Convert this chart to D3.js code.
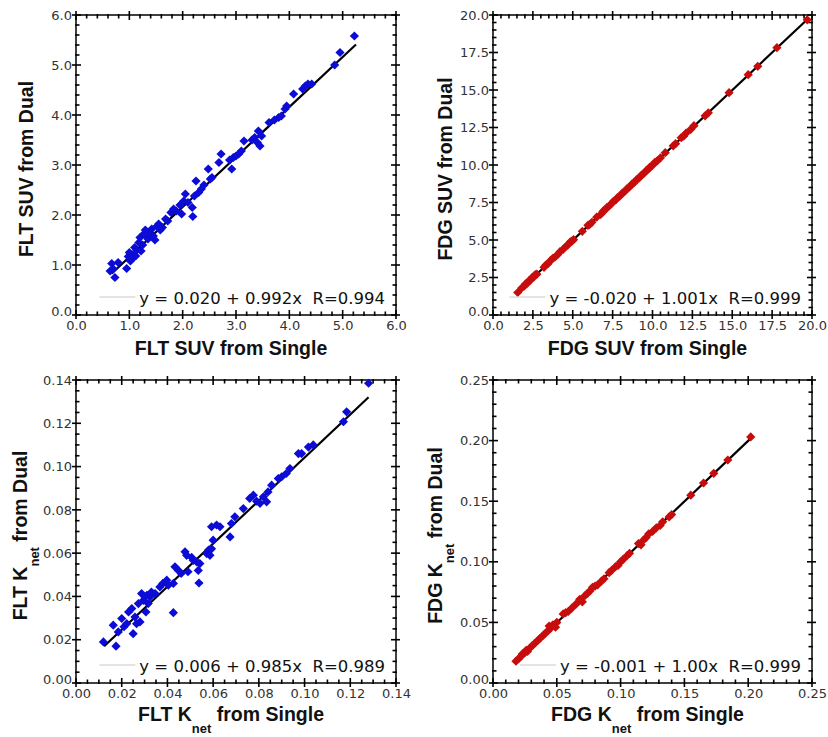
<!DOCTYPE html>
<html><head><meta charset="utf-8">
<script src="https://cdn.jsdelivr.net/npm/d3@7"></script>
<style>
body{margin:0;background:#fff;}
svg{display:block;}
</style></head>
<body>
<svg id="chart" width="828" height="737"></svg>
<script>
// ---------- DATA ----------
const fltSuvX = [0.64,0.67,0.70,0.73,0.79,0.95,0.98,1.00,1.02,1.05,1.08,1.10,1.12,1.14,1.18,1.20,1.22,1.25,1.27,1.30,1.32,1.35,1.38,1.42,1.45,1.48,1.52,1.55,1.58,1.62,1.68,1.72,1.78,1.83,1.88,1.95,1.98,2.02,2.05,2.10,2.18,2.19,2.22,2.25,2.30,2.35,2.40,2.48,2.52,2.55,2.68,2.72,2.88,2.92,2.95,3.00,3.05,3.10,3.15,3.30,3.35,3.40,3.42,3.45,3.48,3.62,3.72,3.80,3.85,3.92,3.95,4.08,4.25,4.30,4.35,4.42,4.85,4.95,5.22];
const fltSuvY = [0.88,1.03,0.92,0.75,1.05,0.93,1.17,1.25,1.08,1.12,1.22,1.35,1.18,1.30,1.45,1.55,1.28,1.40,1.62,1.70,1.58,1.52,1.65,1.72,1.58,1.50,1.78,1.82,1.70,1.75,1.92,1.88,2.05,2.12,2.08,2.20,2.02,2.28,2.42,2.25,2.15,1.97,2.38,2.68,2.45,2.52,2.60,2.92,2.72,2.75,3.05,3.22,3.10,2.92,3.15,3.18,3.22,3.28,3.48,3.50,3.55,3.45,3.68,3.38,3.58,3.85,3.90,3.95,3.98,4.12,4.18,4.42,4.52,4.58,4.62,4.62,5.00,5.25,5.58];
const fltSuvLineX = [0.67, 5.25];
const fltSuvLineY = [0.83, 5.41];

const fdgSuvX = [1.55,1.8,1.95,2.05,2.15,2.25,2.35,2.45,2.55,2.65,2.75,3.2,3.3,3.45,3.6,3.75,3.9,4.05,4.2,4.4,4.55,4.7,4.85,4.95,5.05,5.6,5.95,6.05,6.2,6.5,6.75,6.9,7.0,7.15,7.3,7.45,7.55,7.7,7.8,7.95,8.1,8.25,8.4,8.55,8.7,8.85,9.0,9.15,9.3,9.45,9.6,9.75,9.85,10.0,10.15,10.3,10.5,10.8,11.3,11.45,11.8,11.95,12.1,12.4,12.6,13.3,13.5,14.8,16.0,16.6,17.8,19.7];
const fdgSuvY = [1.50,1.80,1.92,2.08,2.12,2.28,2.33,2.50,2.52,2.70,2.72,3.18,3.32,3.42,3.62,3.78,3.88,4.02,4.22,4.38,4.55,4.68,4.88,4.92,5.02,5.58,5.98,6.02,6.18,6.52,6.70,6.92,6.98,7.18,7.28,7.45,7.58,7.68,7.82,7.92,8.12,8.22,8.42,8.52,8.72,8.82,9.02,9.12,9.32,9.42,9.62,9.72,9.88,9.98,10.18,10.28,10.48,10.82,11.28,11.42,11.82,11.92,12.12,12.38,12.62,13.28,13.48,14.82,16.02,16.58,17.82,19.68];
const fdgSuvLineX = [1.5, 19.8];
const fdgSuvLineY = [1.48, 19.8];

const fltKX = [0.012,0.0163,0.0175,0.0185,0.020,0.021,0.0222,0.023,0.0244,0.025,0.0258,0.0265,0.0273,0.028,0.0287,0.0295,0.0306,0.031,0.0316,0.0324,0.033,0.0346,0.0367,0.038,0.0397,0.0404,0.0426,0.0426,0.0433,0.0448,0.046,0.0477,0.0484,0.049,0.0506,0.0513,0.0528,0.0535,0.0538,0.0542,0.0572,0.058,0.0586,0.0593,0.060,0.0593,0.0615,0.063,0.0674,0.068,0.0695,0.0732,0.076,0.0776,0.079,0.0805,0.082,0.0834,0.084,0.0856,0.0885,0.090,0.092,0.0936,0.0973,0.0987,0.1017,0.1038,0.117,0.1184,0.128];
const fltKY = [0.019,0.0267,0.017,0.0236,0.0298,0.026,0.0274,0.0328,0.0344,0.0228,0.0305,0.0274,0.0367,0.0282,0.0413,0.0382,0.0328,0.0405,0.0367,0.0398,0.042,0.0413,0.0444,0.046,0.0475,0.0452,0.0325,0.046,0.0537,0.052,0.0506,0.0606,0.059,0.0514,0.058,0.0567,0.056,0.052,0.0462,0.0552,0.0598,0.0614,0.059,0.062,0.066,0.0722,0.073,0.0722,0.0675,0.0737,0.0768,0.0806,0.0853,0.0868,0.084,0.083,0.086,0.0837,0.0883,0.0914,0.0945,0.0953,0.0968,0.0991,0.106,0.106,0.109,0.110,0.1207,0.1253,0.1385];
const fltKLineX = [0.0123, 0.128];
const fltKLineY = [0.017, 0.132];

const fdgKX = [0.018,0.020,0.022,0.023,0.025,0.026,0.027,0.029,0.031,0.033,0.035,0.037,0.039,0.041,0.043,0.044,0.045,0.047,0.049,0.050,0.055,0.057,0.059,0.062,0.065,0.068,0.070,0.072,0.074,0.076,0.078,0.080,0.082,0.085,0.087,0.091,0.093,0.096,0.098,0.100,0.102,0.105,0.107,0.114,0.116,0.118,0.120,0.122,0.125,0.128,0.131,0.133,0.138,0.140,0.155,0.165,0.173,0.184,0.202];
const fdgKY = [0.018,0.020,0.022,0.024,0.025,0.027,0.026,0.029,0.031,0.033,0.035,0.037,0.039,0.041,0.043,0.047,0.045,0.048,0.046,0.050,0.057,0.058,0.059,0.062,0.065,0.069,0.067,0.072,0.074,0.076,0.079,0.080,0.081,0.084,0.086,0.091,0.093,0.096,0.097,0.100,0.102,0.105,0.107,0.115,0.114,0.118,0.120,0.123,0.125,0.128,0.130,0.133,0.137,0.139,0.155,0.165,0.173,0.184,0.203];
const fdgKLineX = [0.0175, 0.202];
const fdgKLineY = [0.0173, 0.2018];

// tick labels
const fltSuvTicks = ["0.0","1.0","2.0","3.0","4.0","5.0","6.0"];
const fdgSuvTicks = ["0.0","2.5","5.0","7.5","10.0","12.5","15.0","17.5","20.0"];
const fltKTicks = ["0.00","0.02","0.04","0.06","0.08","0.10","0.12","0.14"];
const fdgKTicks = ["0.00","0.05","0.10","0.15","0.20","0.25"];
const fltSuvMinorStep = 0.2, fdgSuvMinorStep = 0.5, fltKMinorStep = 0.005, fdgKMinorStep = 0.01;

const legends = ["y = 0.020 + 0.992x  R=0.994","y = -0.020 + 1.001x  R=0.999","y = 0.006 + 0.985x  R=0.989","y = -0.001 + 1.00x  R=0.999"];
const xTitles = [[["FLT SUV from Single",0]],[["FDG SUV from Single",0]],[["FLT K",0],["net",1],[" from Single",0]],[["FDG K",0],["net",1],[" from Single",0]]];
const yTitles = [[["FLT SUV from Dual",0]],[["FDG SUV from Dual",0]],[["FLT K",0],["net",1],[" from Dual",0]],[["FDG K",0],["net",1],[" from Dual",0]]];

const BLUE = "#0c0cd6", RED = "#c80c0c";

const panels = [
  {x:fltSuvX,y:fltSuvY,lx:fltSuvLineX,ly:fltSuvLineY,ticks:fltSuvTicks,minor:fltSuvMinorStep,color:BLUE,
   box:[76,15,396,315],yTitleX:33,xTitleY:355},
  {x:fdgSuvX,y:fdgSuvY,lx:fdgSuvLineX,ly:fdgSuvLineY,ticks:fdgSuvTicks,minor:fdgSuvMinorStep,color:RED,
   box:[493,15,812,315],yTitleX:452,xTitleY:355},
  {x:fltKX,y:fltKY,lx:fltKLineX,ly:fltKLineY,ticks:fltKTicks,minor:fltKMinorStep,color:BLUE,
   box:[76,380,396,683],yTitleX:27,xTitleY:721},
  {x:fdgKX,y:fdgKY,lx:fdgKLineX,ly:fdgKLineY,ticks:fdgKTicks,minor:fdgKMinorStep,color:RED,
   box:[493,380,812,683],yTitleX:442,xTitleY:721}
];

const svg = d3.select("#chart");
svg.append("rect").attr("width",828).attr("height",737).attr("fill","#fff");
const diamond = "M0,-4.6L4.6,0L0,4.6L-4.6,0Z";

panels.forEach((p,i)=>{
  const [x0,y0,x1,y1] = p.box;
  const tickVals = p.ticks.map(Number);
  const dmax = tickVals[tickVals.length-1];
  const xs = d3.scaleLinear().domain([0,dmax]).range([x0,x1]);
  const ys = d3.scaleLinear().domain([0,dmax]).range([y1,y0]);
  const minorVals = d3.range(0, dmax + p.minor/2, p.minor).filter(v => !tickVals.some(t=>Math.abs(t-v)<p.minor/10));
  const g = svg.append("g");

  // frame
  g.append("rect").attr("x",x0).attr("y",y0).attr("width",x1-x0).attr("height",y1-y0)
    .attr("fill","none").attr("stroke","#000").attr("stroke-width",1.5);

  // ticks: drawn through scales
  const tk = g.append("g").attr("stroke","#000");
  const majorIn = 5, majorOut = 4, minorIn = 3.5, minorOut = 1;
  const drawTicks = (vals, inL, outL, w) => {
    vals.forEach(v=>{
      const xp = xs(v), yp = ys(v);
      tk.append("line").attr("x1",xp).attr("x2",xp).attr("y1",y1+outL).attr("y2",y1-inL).attr("stroke-width",w);
      tk.append("line").attr("x1",xp).attr("x2",xp).attr("y1",y0-outL).attr("y2",y0+inL).attr("stroke-width",w);
      tk.append("line").attr("y1",yp).attr("y2",yp).attr("x1",x0-outL).attr("x2",x0+inL).attr("stroke-width",w);
      tk.append("line").attr("y1",yp).attr("y2",yp).attr("x1",x1+outL).attr("x2",x1-inL).attr("stroke-width",w);
    });
  };
  drawTicks(minorVals, minorIn, minorOut, 1.6);
  drawTicks(tickVals, majorIn, majorOut, 1.6);

  // tick labels via axes
  const xa = d3.axisBottom(xs).tickValues(tickVals).tickFormat((d,j)=>p.ticks[j]).tickSize(0).tickPadding(6);
  const xg = g.append("g").attr("transform",`translate(0,${y1})`).call(xa);
  const ya = d3.axisLeft(ys).tickValues(tickVals).tickFormat((d,j)=>p.ticks[j]).tickSize(0).tickPadding(4);
  const yg = g.append("g").attr("transform",`translate(${x0},0)`).call(ya);
  [xg,yg].forEach(a=>{
    a.select(".domain").remove();
    a.selectAll("text").attr("font-family","DejaVu Sans, sans-serif").attr("font-size",13).attr("fill","#333");
  });
  // lift the bottom y label slightly so it clears the x "0" label
  yg.selectAll("text").filter(d=>d===0).attr("dy","0.0em");

  // regression line
  g.append("line").attr("x1",xs(p.lx[0])).attr("y1",ys(p.ly[0])).attr("x2",xs(p.lx[1])).attr("y2",ys(p.ly[1]))
    .attr("stroke","#000").attr("stroke-width",2.2);

  // points
  g.append("g").selectAll("path").data(p.x.map((v,j)=>[v,p.y[j]])).join("path")
    .attr("d",diamond).attr("transform",d=>`translate(${xs(d[0])},${ys(d[1])})`).attr("fill",p.color);

  // legend
  const lt = g.append("text").attr("x",x1-11).attr("y",y1-11).attr("text-anchor","end")
    .attr("font-family","DejaVu Sans, sans-serif").attr("font-size",16.5).attr("fill","#111")
    .attr("xml:space","preserve").style("white-space","pre").text(legends[i]);
  const tw = lt.node().getComputedTextLength();
  const lx2 = x1-11-tw-4;
  g.append("line").attr("x1",lx2-36).attr("x2",lx2).attr("y1",y1-18).attr("y2",y1-18)
    .attr("stroke","#c8c8c8").attr("stroke-width",1);

  // titles
  const addParts = (t, parts) => {
    parts.forEach(([s,sub])=>{
      const ts = t.append("tspan").text(s);
      if (sub) ts.attr("font-size",13).attr("dy",12);
      else if (t.node().childNodes.length>1) ts.attr("dy",-12);
    });
  };
  const xt = g.append("text").attr("x",(x0+x1)/2-5).attr("y",p.xTitleY).attr("text-anchor","middle")
    .attr("font-family","Liberation Sans, Arial, sans-serif").attr("font-weight","bold").attr("font-size",19.5).attr("fill","#111")
    .style("white-space","pre");
  addParts(xt, xTitles[i]);
  const yt = g.append("text").attr("transform",`translate(${p.yTitleX},${(y0+y1)/2+4}) rotate(-90)`).attr("text-anchor","middle")
    .attr("font-family","Liberation Sans, Arial, sans-serif").attr("font-weight","bold").attr("font-size",19.5).attr("fill","#111")
    .style("white-space","pre");
  addParts(yt, yTitles[i]);
});
</script>
</body></html>
